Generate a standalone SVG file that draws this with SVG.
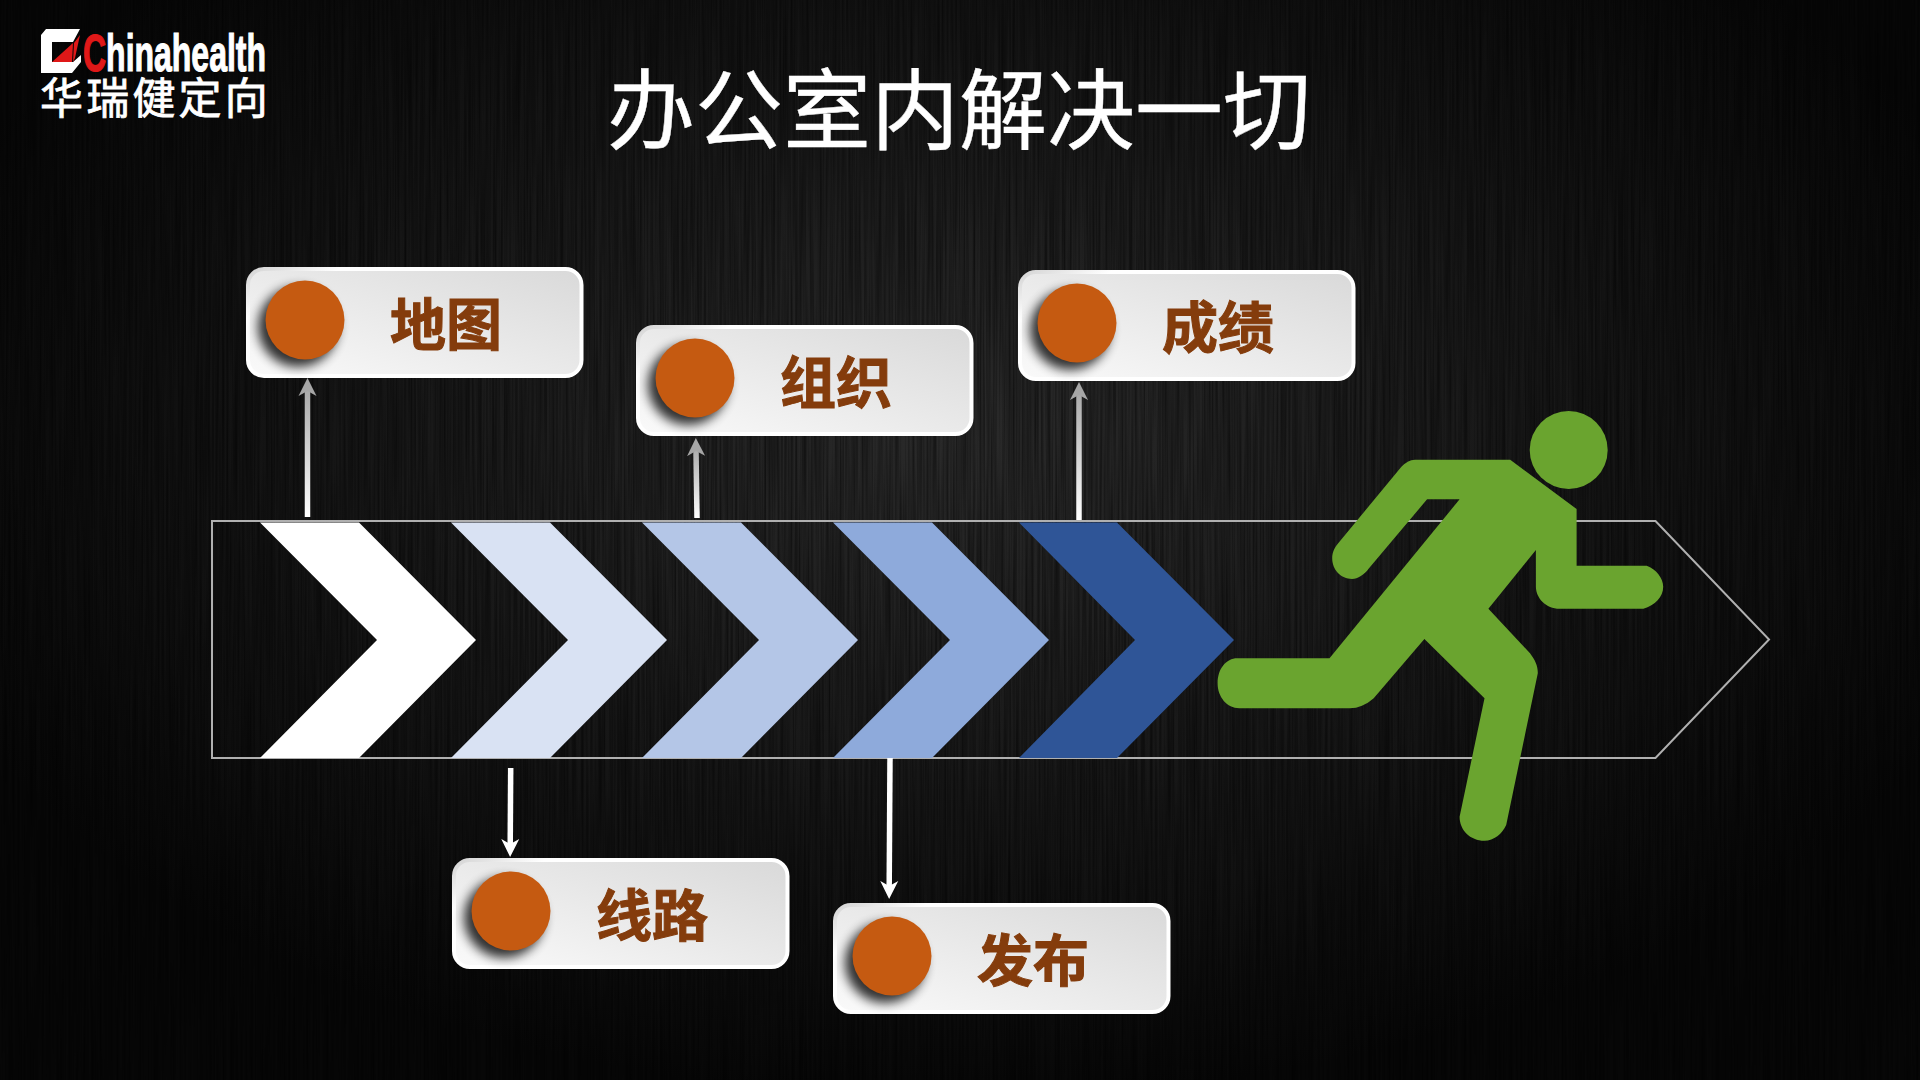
<svg xmlns="http://www.w3.org/2000/svg" width="1920" height="1080" viewBox="0 0 1920 1080">
<style>
.cjk{font-family:"Noto Sans CJK SC","Noto Sans",sans-serif}
.lbl{font-size:56px;font-weight:700;fill:#843c0c;stroke:#843c0c;stroke-width:1;text-anchor:middle}
.card{fill:url(#cardFill);stroke:url(#cardEdge);stroke-width:4}
.dot{fill:#c55a11}
.dotS{fill:#000;opacity:.8;filter:url(#soft)}
.shaft{fill:none;stroke-width:5.5}
</style>
<defs>
<radialGradient id="bg" gradientUnits="userSpaceOnUse" cx="960" cy="440" r="1100" gradientTransform="translate(0 176) scale(1 .6)">
<stop offset="0" stop-color="#2a2a2a"/><stop offset=".45" stop-color="#1a1a1a"/><stop offset="1" stop-color="#070707"/>
</radialGradient>
<filter id="streak" x="0" y="0" width="100%" height="100%">
<feTurbulence type="fractalNoise" baseFrequency="0.45 0.006" numOctaves="2" seed="4"/>
<feColorMatrix values="0 0 0 0 0  0 0 0 0 0  0 0 0 0 0  1.6 0 0 0 -0.5"/>
</filter>
<filter id="soft" x="-30%" y="-30%" width="160%" height="160%"><feGaussianBlur stdDeviation="5.5"/></filter>
<linearGradient id="cardFill" x1="0" y1="1" x2="1" y2="0"><stop offset="0" stop-color="#fafafa"/><stop offset="1" stop-color="#d9d9d9"/></linearGradient>
<linearGradient id="cardEdge" x1="0" y1="0" x2="1" y2="0.6"><stop offset="0" stop-color="#d4d4d4"/><stop offset=".2" stop-color="#fff"/><stop offset="1" stop-color="#fff"/></linearGradient>
<linearGradient id="up1" gradientUnits="userSpaceOnUse" x1="0" y1="517" x2="0" y2="385"><stop offset="0" stop-color="#fff"/><stop offset="1" stop-color="#a6a6a6"/></linearGradient>
<linearGradient id="up2" gradientUnits="userSpaceOnUse" x1="0" y1="518" x2="0" y2="445"><stop offset="0" stop-color="#fff"/><stop offset="1" stop-color="#a6a6a6"/></linearGradient>
<linearGradient id="up3" gradientUnits="userSpaceOnUse" x1="0" y1="520" x2="0" y2="388"><stop offset="0" stop-color="#fff"/><stop offset="1" stop-color="#a6a6a6"/></linearGradient>
<marker id="headG" markerUnits="userSpaceOnUse" markerWidth="20" markerHeight="20" refX="6" refY="9" orient="auto" viewBox="0 0 20 18"><path d="M0 0L18 9L0 18L5 9Z" fill="#a6a6a6"/></marker>
<marker id="headW" markerUnits="userSpaceOnUse" markerWidth="20" markerHeight="20" refX="6" refY="9" orient="auto" viewBox="0 0 20 18"><path d="M0 0L18 9L0 18L5 9Z" fill="#fff"/></marker>
</defs>

<rect id="background" width="1920" height="1080" fill="url(#bg)"/>
<rect width="1920" height="1080" filter="url(#streak)" opacity=".6"/>

<g id="logo">
<path d="M41 35L46 29H80L73 42H52V62H73L81 55V62L72 73H41Z" fill="#fff"/>
<path d="M52 62L73 43L72 62Z" fill="#e01818"/>
<path d="M80 35L75 58L73 62L74 43Z" fill="#e01818"/>
<text x="83" y="71" font-family="Liberation Sans,sans-serif" font-size="52" font-weight="700" fill="#fff" stroke="#fff" stroke-width="1.2" textLength="183" lengthAdjust="spacingAndGlyphs"><tspan fill="#e01818" stroke="#e01818">C</tspan>hinahealth</text>
<text class="cjk" x="40" y="114" font-size="43" fill="#fff" stroke="#fff" stroke-width=".8" letter-spacing="3.2">华瑞健定向</text>
</g>

<text id="title" class="cjk" x="959" y="142" font-size="88" fill="#fff" stroke="#fff" stroke-width=".4" text-anchor="middle">办公室内解决一切</text>

<g id="band"><path d="M212 521H1655.5L1769 639.5L1655.5 758H212Z" fill="none" stroke="#b0b0b0" stroke-width="2"/></g>

<g id="chevrons">
<path id="chevron-1" d="M260 522.5H359L476 640L359 758H260L377 640Z" fill="#fff"/>
<path id="chevron-2" d="M451 522.5H550L667 640L550 758H451L568 640Z" fill="#d9e2f3"/>
<path id="chevron-3" d="M642 522.5H741L858 640L741 758H642L759 640Z" fill="#b4c6e7"/>
<path id="chevron-4" d="M833 522.5H932L1049 640L932 758H833L950 640Z" fill="#8eaadb"/>
<path id="chevron-5" d="M1019 522.5H1117L1234 640L1117 758H1019L1135 640Z" fill="#2f5597"/>
</g>

<g id="runner" fill="#6aa42f">
<ellipse cx="1568.7" cy="450" rx="39" ry="39"/>
<path d="M1415 459.7H1510.2L1576.6 509V565.7H1646.7C1656 569 1663.2 578 1663.2 586.7C1663.2 597 1655 605 1643.4 608.7H1559.6C1546 608.7 1535.9 598 1535.9 586.7V550L1488.4 608.7L1530 653.3C1535 660 1538 666 1537.8 673.3L1506.2 825C1502 834 1494 840.7 1484.5 840.7C1470 840.7 1459.6 830 1459.6 816.7L1484.5 698.3L1424.4 639L1373.7 698.3C1366 705 1358 708.3 1350 708.3H1239.3C1227 708.3 1217.6 697 1217.6 683.3C1217.6 669 1226 658.3 1237.3 658.3H1329.5L1459.6 499.3H1427.1L1369 568.3C1364 575 1358 579 1352 579C1341 579 1332.2 570 1332.2 558.3C1332.2 552 1335 547 1338.2 543.3L1401.4 466.7C1405 463 1410 459.7 1415 459.7Z"/>
</g>

<g id="connectors">
<line class="shaft" x1="307.5" y1="517" x2="307.5" y2="390" stroke="url(#up1)" marker-end="url(#headG)"/>
<line class="shaft" x1="697" y1="518" x2="696" y2="450" stroke="url(#up2)" marker-end="url(#headG)"/>
<line class="shaft" x1="1079" y1="520" x2="1079" y2="394" stroke="url(#up3)" marker-end="url(#headG)"/>
<line class="shaft" x1="510.7" y1="768" x2="510.2" y2="845" stroke="#fff" marker-end="url(#headW)"/>
<line class="shaft" x1="890" y1="758" x2="889.2" y2="887" stroke="#fff" marker-end="url(#headW)"/>
</g>

<g id="node-ditu" transform="translate(246 267)"><rect class="card" x="2" y="2" width="333.5" height="107" rx="16"/><circle class="dotS" cx="52" cy="60" r="40"/><circle class="dot" cx="59" cy="53" r="39.5"/><text class="cjk lbl" x="200" y="78">地图</text></g>
<g id="node-xianlu" transform="translate(452 858)"><rect class="card" x="2" y="2" width="333.5" height="107" rx="16"/><circle class="dotS" cx="52" cy="60" r="40"/><circle class="dot" cx="59" cy="53" r="39.5"/><text class="cjk lbl" x="200" y="78">线路</text></g>
<g id="node-zuzhi" transform="translate(636 325)"><rect class="card" x="2" y="2" width="333.5" height="107" rx="16"/><circle class="dotS" cx="52" cy="60" r="40"/><circle class="dot" cx="59" cy="53" r="39.5"/><text class="cjk lbl" x="200" y="78">组织</text></g>
<g id="node-fabu" transform="translate(833 903)"><rect class="card" x="2" y="2" width="333.5" height="107" rx="16"/><circle class="dotS" cx="52" cy="60" r="40"/><circle class="dot" cx="59" cy="53" r="39.5"/><text class="cjk lbl" x="200" y="78">发布</text></g>
<g id="node-chengji" transform="translate(1018 270)"><rect class="card" x="2" y="2" width="333.5" height="107" rx="16"/><circle class="dotS" cx="52" cy="60" r="40"/><circle class="dot" cx="59" cy="53" r="39.5"/><text class="cjk lbl" x="200" y="78">成绩</text></g>
</svg>
